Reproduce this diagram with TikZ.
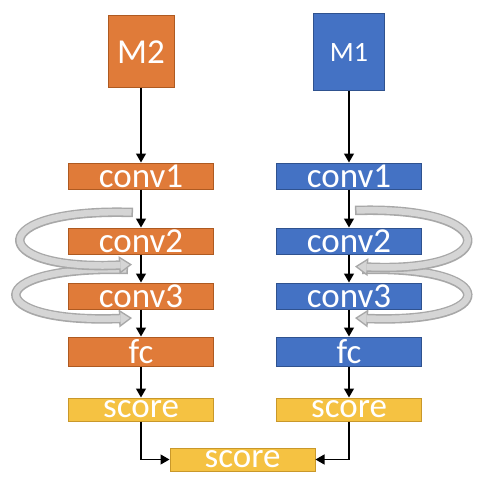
\documentclass[tikz,border=0pt]{standalone}
\usepackage{fontspec}
\setmainfont{Carlito}
\usetikzlibrary{arrows.meta, positioning, calc}
\definecolor{modelorange}{HTML}{E07B39}
\definecolor{orangeedge}{HTML}{AE5A21}
\definecolor{modelblue}{HTML}{4472C4}
\definecolor{blueedge}{HTML}{2F528F}
\definecolor{scoreyellow}{HTML}{F5C242}
\definecolor{yellowedge}{HTML}{C9982A}
\newcommand{\skiplink}[4]{%
  \draw[skipouter] (#1) .. controls +(#3) and +(#4) .. (#2);
  \draw[skipinner] (#1) .. controls +(#3) and +(#4) .. (#2);
}

\begin{document}
\begin{tikzpicture}[x=1pt, y=-1pt,
    layer/.style={minimum width=145pt, minimum height=26pt, inner sep=0pt, line width=1pt, text=white, font=\fontsize{35}{35}\selectfont},
    orangebox/.style={layer, draw=orangeedge, fill=modelorange},
    bluebox/.style={layer, draw=blueedge, fill=modelblue},
    scorebox/.style={layer, minimum height=23pt, draw=yellowedge, fill=scoreyellow},
    flow/.style={-{Triangle[width=10pt,length=9pt]}, line width=1.3pt},
    skipouter/.style={line width=9.5pt, gray!68, -{Triangle[width=18pt,length=13pt,line width=0pt]}},
    skipinner/.style={line width=6.5pt, gray!33, shorten >=2.6pt, shorten <=1.5pt, -{Triangle[width=12.3pt,length=8.9pt,line width=0pt]}}
  ]
  \useasboundingbox (0,0) rectangle (482,484);

  % left branch
  \node[orangebox, minimum width=66pt, minimum height=72pt] (m2) at (141,52) {M2};
  \node[orangebox] (lconv1) at (141,176) {conv1};
  \node[orangebox, below=38pt of lconv1] (lconv2) {conv2};
  \node[orangebox, below=28pt of lconv2] (lconv3) {conv3};
  \node[orangebox, minimum height=29pt, below=27pt of lconv3] (lfc) {fc};
  \node[scorebox, below=31pt of lfc] (lscore) {score};

  % right branch
  \node[bluebox, minimum width=71pt, minimum height=77pt, font=\fontsize{28}{28}\selectfont] (m1) at (349,52) {M1};
  \node[bluebox] (rconv1) at (349,176) {conv1};
  \node[bluebox, below=38pt of rconv1] (rconv2) {conv2};
  \node[bluebox, below=28pt of rconv2] (rconv3) {conv3};
  \node[bluebox, minimum height=29pt, below=27pt of rconv3] (rfc) {fc};
  \node[scorebox, below=31pt of rfc] (rscore) {score};

  \node[scorebox] (score) at (242.5,459.5) {score};

  % skip connections
  \coordinate (ls1) at ($(lconv1.south)!0.5!(lconv2.north)+(-8,4)$);
  \coordinate (le1) at ($(lconv2.south)!0.5!(lconv3.north)+(-9,-4)$);
  \coordinate (ls2) at ($(lconv2.south)!0.5!(lconv3.north)+(-13,1)$);
  \coordinate (le2) at ($(lconv3.south)!0.5!(lfc.north)+(-9,-5)$);
  \coordinate (rs1) at ($(rconv1.south)!0.5!(rconv2.north)+(6,2)$);
  \coordinate (re1) at ($(rconv2.south)!0.5!(rconv3.north)+(6,-2)$);
  \coordinate (rs2) at ($(rconv2.south)!0.5!(rconv3.north)+(13,1)$);
  \coordinate (re2) at ($(rconv3.south)!0.5!(rfc.north)+(6,-5)$);

  \skiplink{ls2}{le2}{-150,-4}{-150,6}
  \skiplink{ls1}{le1}{-149,-5}{-147,7}
  \skiplink{rs2}{re2}{140,-4}{147,6}
  \skiplink{rs1}{re1}{148,-5}{148,7}

  % forward flow
  \foreach \a/\b in {m2/lconv1, lconv1/lconv2, lconv2/lconv3, lconv3/lfc, lfc/lscore,
                     m1/rconv1, rconv1/rconv2, rconv2/rconv3, rconv3/rfc, rfc/rscore}
    \draw[flow] (\a) -- (\b);
  \draw[flow] (lscore) |- (score);
  \draw[flow] (rscore) |- (score);
\end{tikzpicture}
\end{document}
